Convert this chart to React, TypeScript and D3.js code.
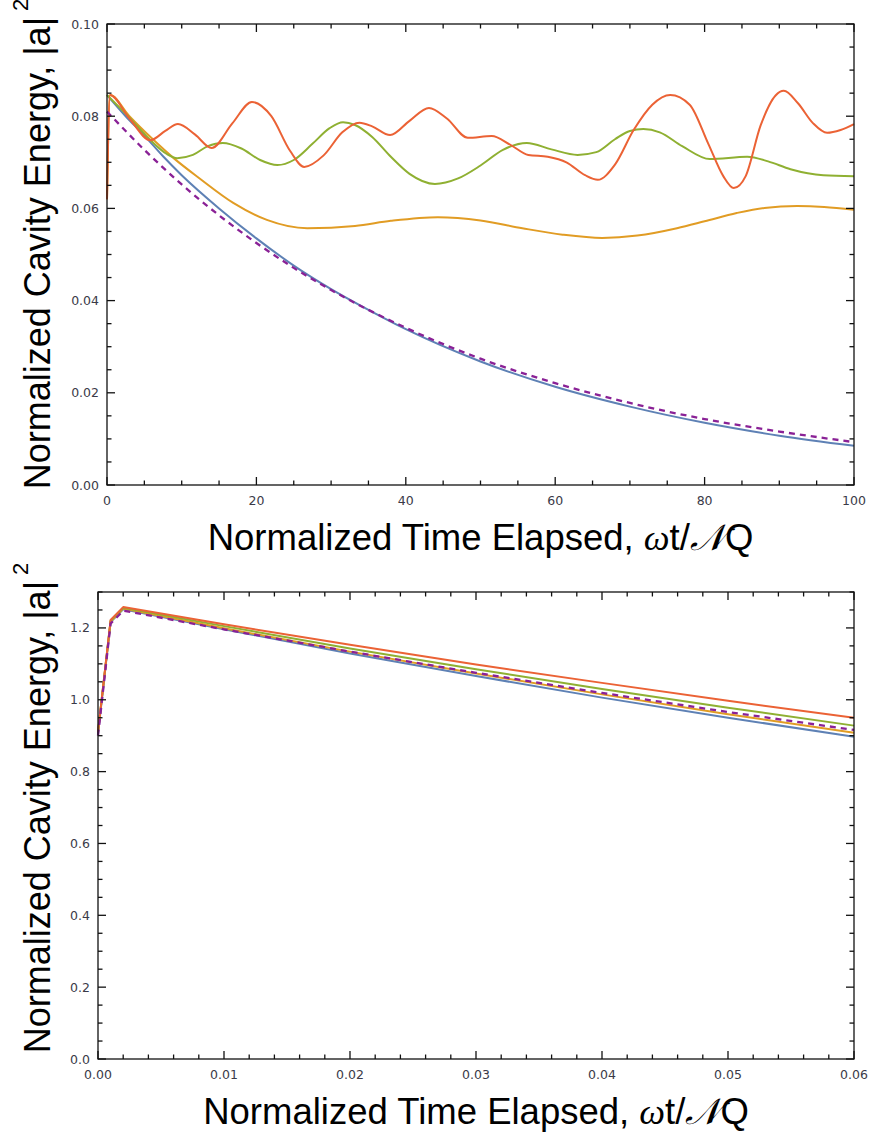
import * as d3 from "d3";

// ---- data ----
// top panel: x = normalized time 0..100, y = cavity energy
const topBlue: [number, number][] = [
  [0, 0.0846], [2.5, 0.0800], [5, 0.0758], [7.5, 0.0713], [10, 0.0672], [15, 0.0600],
  [20, 0.0535], [25, 0.0476], [30, 0.0425], [35, 0.0380], [40, 0.0338], [50, 0.0268],
  [60, 0.0213], [70, 0.0170], [80, 0.0135], [90, 0.0107], [100, 0.0085],
];
const topOrange: [number, number][] = [
  [0, 0.062], [0.4, 0.0846], [3, 0.0800], [6, 0.0752], [9, 0.0708], [12.4, 0.0665],
  [16.9, 0.0612], [21.4, 0.0575], [26.8, 0.0557], [33.2, 0.0562], [38, 0.0573],
  [44.3, 0.0581], [50, 0.0574], [55.6, 0.0557], [61, 0.0543], [66.3, 0.0536],
  [71, 0.0541], [76.3, 0.0557], [80, 0.0572], [84.3, 0.0590], [88, 0.0601],
  [92.4, 0.0605], [96, 0.0603], [100, 0.0597],
];
const topGreen: [number, number][] = [
  [0, 0.0846], [3, 0.0797], [6, 0.0745], [8, 0.0718], [9.4, 0.0709], [11.5, 0.0716],
  [13.5, 0.0735], [15.5, 0.0742], [18, 0.0730], [20.5, 0.0705], [22.8, 0.0694],
  [25, 0.0705], [27.5, 0.0740], [29.8, 0.0774], [31.6, 0.0787], [33.2, 0.0781],
  [35.5, 0.0755], [38, 0.0712], [40.5, 0.0675], [43.9, 0.0653], [47, 0.0665],
  [50, 0.0693], [53, 0.0727], [56.2, 0.0742], [59.5, 0.0728], [63, 0.0716],
  [65.5, 0.0722], [68, 0.0750], [70, 0.0768], [71.8, 0.0772], [74, 0.0765],
  [77, 0.0735], [80.7, 0.0707], [85.7, 0.0712], [88.5, 0.0702], [91.5, 0.0685],
  [95.9, 0.0672], [100, 0.0670],
];
const topRed: [number, number][] = [
  [0, 0.062], [0.4, 0.0846], [3, 0.0795], [5.8, 0.0748], [7.8, 0.0768], [9.5, 0.0783],
  [11.8, 0.0760], [14, 0.0731], [16.8, 0.0785], [19.4, 0.0831], [22, 0.0800],
  [24.5, 0.0725], [26.4, 0.0690], [29, 0.0715], [31.5, 0.0765], [33.8, 0.0786],
  [35.5, 0.0778], [37.9, 0.0759], [40.5, 0.0790], [43.1, 0.0818], [45.5, 0.0795],
  [48.3, 0.0753], [51.5, 0.0757], [54, 0.0738], [56.4, 0.0716], [59, 0.0712],
  [61.5, 0.0700], [64, 0.0672], [65.7, 0.0662], [68, 0.0695], [70.5, 0.0770],
  [73, 0.0825], [75.4, 0.0846], [78, 0.0825], [80.5, 0.0740], [82.5, 0.0670],
  [83.9, 0.0644], [85.5, 0.0670], [87.5, 0.0780], [89.5, 0.0845], [90.6, 0.0855],
  [92.5, 0.0828], [94.5, 0.0785], [96.4, 0.0764], [98.2, 0.0770], [100, 0.0783],
];
const topDashed: [number, number][] = [
  [0, 0.0810], [5, 0.0727], [10, 0.0652], [15, 0.0585], [20, 0.0525], [25, 0.0471],
  [30, 0.0423], [40, 0.0341], [50, 0.0274], [60, 0.0221], [70, 0.0178], [80, 0.0143],
  [90, 0.0116], [100, 0.0093],
];

// bottom panel: x = normalized time 0..0.06
const botBlue: [number, number][] = [
  [0, 0.905], [0.001, 1.216], [0.002, 1.252], [0.01, 1.196], [0.02, 1.129],
  [0.03, 1.066], [0.04, 1.006], [0.05, 0.950], [0.06, 0.897],
];
const botOrange: [number, number][] = [
  [0, 0.91], [0.001, 1.218], [0.002, 1.254], [0.01, 1.199], [0.02, 1.134],
  [0.03, 1.073], [0.04, 1.015], [0.05, 0.960], [0.06, 0.908],
];
const botGreen: [number, number][] = [
  [0, 0.91], [0.001, 1.220], [0.002, 1.256], [0.01, 1.205], [0.02, 1.143],
  [0.03, 1.085], [0.04, 1.030], [0.05, 0.978], [0.06, 0.928],
];
const botRed: [number, number][] = [
  [0, 0.91], [0.001, 1.222], [0.002, 1.258], [0.01, 1.210], [0.02, 1.153],
  [0.03, 1.098], [0.04, 1.047], [0.05, 0.997], [0.06, 0.950],
];
const botDashed: [number, number][] = [
  [0, 0.90], [0.001, 1.212], [0.002, 1.248], [0.01, 1.196], [0.02, 1.134],
  [0.03, 1.075], [0.04, 1.019], [0.05, 0.966], [0.06, 0.916],
];

const topXTicks = [0, 20, 40, 60, 80, 100];
const topYTicks = [0, 0.02, 0.04, 0.06, 0.08, 0.1];
const botXTicks = [0, 0.01, 0.02, 0.03, 0.04, 0.05, 0.06];
const botYTicks = [0, 0.2, 0.4, 0.6, 0.8, 1.0, 1.2];

const BLUE = "#5e81b5";
const ORANGE = "#e19c24";
const GREEN = "#8fb032";
const RED = "#eb6235";
const PURPLE = "#8a2196";

const labelFont = "'Liberation Sans', Arial, sans-serif";
const tickFont = "'DejaVu Sans', sans-serif";

type Series = { data: [number, number][]; color: string; dash?: string };

function Panel({ box, xDomain, yDomain, xTicks, yTicks, xMinor, yMinor, xFmt, yFmt, series, curve, yLabelMid }: any) {
  const x = d3.scaleLinear().domain(xDomain).range([box.left, box.right]);
  const y = d3.scaleLinear().domain(yDomain).range([box.bottom, box.top]);
  const line = d3.line<[number, number]>()
    .x(d => x(d[0]))
    .y(d => y(d[1]))
    .curve(curve);
  const xMin = x.ticks(xMinor);
  const yMin = y.ticks(yMinor);
  const major = 8, minor = 4.5;
  const tc = "#111";
  return (
    <g>
      {series.map((s: Series, i: number) => (
        <path key={i} d={line(s.data) || ""} fill="none" stroke={s.color}
          strokeWidth={s.dash ? 2.3 : 2} strokeDasharray={s.dash} strokeLinejoin="round" />
      ))}
      <rect x={box.left} y={box.top} width={box.right - box.left} height={box.bottom - box.top}
        fill="none" stroke={tc} strokeWidth={1.3} />
      {xMin.map((v: number, i: number) => {
        const len = xTicks.some((t: number) => Math.abs(t - v) < 1e-9) ? major : minor;
        return (
          <g key={"xm" + i} stroke={tc} strokeWidth={1.3}>
            <line x1={x(v)} x2={x(v)} y1={box.bottom} y2={box.bottom - len} />
            <line x1={x(v)} x2={x(v)} y1={box.top} y2={box.top + len} />
          </g>
        );
      })}
      {yMin.map((v: number, i: number) => {
        const len = yTicks.some((t: number) => Math.abs(t - v) < 1e-9) ? major : minor;
        return (
          <g key={"ym" + i} stroke={tc} strokeWidth={1.3}>
            <line x1={box.left} x2={box.left + len} y1={y(v)} y2={y(v)} />
            <line x1={box.right} x2={box.right - len} y1={y(v)} y2={y(v)} />
          </g>
        );
      })}
      {xTicks.map((v: number, i: number) => (
        <text key={"xl" + i} x={x(v)} y={box.bottom + 20} textAnchor="middle"
          fontFamily={tickFont} fontSize={12.5} fill="#3a3a48">{xFmt(v)}</text>
      ))}
      {yTicks.map((v: number, i: number) => (
        <text key={"yl" + i} x={box.left - 8} y={y(v) + 4.5} textAnchor="end"
          fontFamily={tickFont} fontSize={12.5} fill="#3a3a48">{yFmt(v)}</text>
      ))}
      <text transform={`translate(50, ${yLabelMid}) rotate(-90)`} textAnchor="middle"
        fontFamily={labelFont} fontSize={36} fill="#000">
        Normalized Cavity Energy, |a|<tspan dx={6} dy={-22} fontSize={22}>2</tspan>
      </text>
      <text x={(box.left + box.right) / 2} y={box.bottom + 65} textAnchor="middle"
        fontFamily={labelFont} fontSize={36.5} fill="#000">
        Normalized Time Elapsed, <tspan fontFamily="'Liberation Serif', serif" fontStyle="italic">ω</tspan>t/<tspan fontFamily="'DejaVu Serif', serif" fontStyle="italic">𝒩</tspan>Q
      </text>
    </g>
  );
}

export default function App() {
  const topSeries: Series[] = [
    { data: topBlue, color: BLUE },
    { data: topOrange, color: ORANGE },
    { data: topGreen, color: GREEN },
    { data: topRed, color: RED },
    { data: topDashed, color: PURPLE, dash: "6,5" },
  ];
  const botSeries: Series[] = [
    { data: botBlue, color: BLUE },
    { data: botOrange, color: ORANGE },
    { data: botGreen, color: GREEN },
    { data: botRed, color: RED },
    { data: botDashed, color: PURPLE, dash: "6,5" },
  ];
  return (
    <svg width={870} height={1132} style={{ position: "absolute", left: 0, top: 0, background: "#fff" }}>
      <rect width={870} height={1132} fill="#fff" />
      <Panel box={{ left: 107, right: 854, top: 24, bottom: 485 }}
        xDomain={[0, 100]} yDomain={[0, 0.1]} xTicks={topXTicks} yTicks={topYTicks}
        xMinor={20} yMinor={20} xFmt={d3.format("d")} yFmt={d3.format(".2f")}
        series={topSeries} curve={d3.curveMonotoneX} yLabelMid={244} />
      <Panel box={{ left: 98, right: 854, top: 592, bottom: 1059 }}
        xDomain={[0, 0.06]} yDomain={[0, 1.3]} xTicks={botXTicks} yTicks={botYTicks}
        xMinor={30} yMinor={26} xFmt={d3.format(".2f")} yFmt={d3.format(".1f")}
        series={botSeries} curve={d3.curveLinear} yLabelMid={808} />
    </svg>
  );
}
